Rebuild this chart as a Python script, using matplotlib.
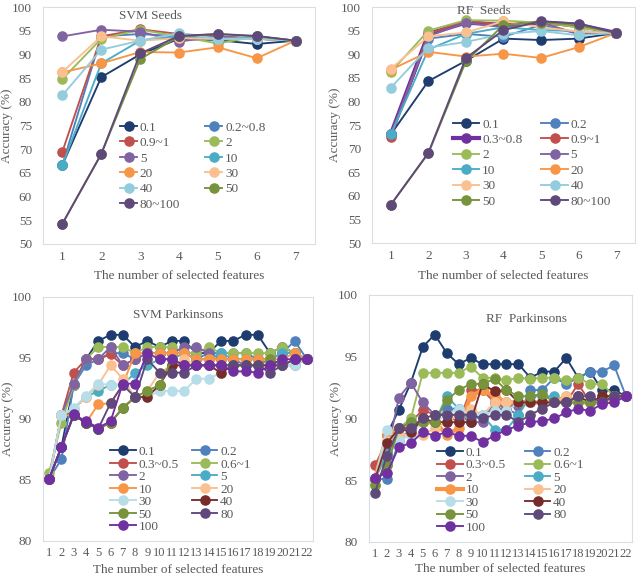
import matplotlib
matplotlib.use("Agg")
import matplotlib.pyplot as plt
import numpy as np

plt.rcParams['font.family'] = ['Liberation Serif', 'DejaVu Serif']

W, H = 639, 583

# ---------------- data ----------------
seeds_x = list(range(1, 8))
park_x = list(range(1, 23))

svm_seeds_labels = ["0.1", "0.2~0.8", "0.9~1", "2", "5", "10", "20", "30", "40", "50", "80~100"]
svm_seeds_vals = [
    [66.7, 85.2, 90.0, 93.3, 93.0, 92.2, 92.9],
    [66.7, 93.8, 94.3, 93.8, 93.8, 93.3, 92.9],
    [69.5, 93.8, 95.3, 94.3, 93.8, 93.3, 92.9],
    [84.8, 93.3, 95.2, 93.8, 92.3, 93.8, 92.9],
    [93.8, 95.2, 94.8, 92.7, 93.8, 93.3, 92.9],
    [66.7, 88.1, 92.9, 93.8, 93.0, 93.8, 92.9],
    [86.2, 88.1, 90.5, 90.4, 91.5, 89.2, 92.9],
    [86.3, 93.8, 92.9, 93.4, 93.3, 93.3, 92.9],
    [81.4, 91.0, 92.9, 94.5, 93.3, 93.3, 92.9],
    [54.3, 69.0, 89.0, 93.8, 94.3, 93.8, 92.9],
    [54.3, 69.0, 90.2, 93.9, 94.3, 93.9, 92.9],
]

rf_seeds_labels = ["0.1", "0.2", "0.3~0.8", "0.9~1", "2", "5", "10", "20", "30", "40", "50", "80~100"]
rf_seeds_vals = [
    [73.0, 84.3, 88.6, 93.3, 93.0, 93.3, 94.5],
    [73.0, 93.3, 94.3, 93.7, 96.2, 94.3, 94.5],
    [73.0, 94.3, 96.7, 96.2, 96.7, 96.2, 94.5],
    [72.4, 94.3, 97.1, 96.2, 96.7, 95.7, 94.5],
    [86.2, 95.0, 97.2, 97.1, 96.7, 95.7, 94.5],
    [73.0, 93.8, 96.7, 95.7, 96.7, 94.3, 94.5],
    [73.0, 91.0, 94.3, 95.7, 95.1, 94.9, 94.5],
    [86.7, 90.5, 89.5, 90.1, 89.2, 91.5, 94.5],
    [86.9, 93.8, 94.6, 97.0, 95.7, 94.8, 94.5],
    [82.9, 91.4, 92.6, 94.3, 94.9, 94.0, 94.5],
    [58.1, 69.0, 88.5, 96.2, 96.7, 96.2, 94.5],
    [58.1, 69.1, 89.2, 95.1, 97.0, 96.5, 94.5],
]

park_labels = ["0.1", "0.2", "0.3~0.5", "0.6~1", "2", "5", "10", "20", "30", "40", "50", "80", "100"]
svm_park_vals = [
    [85.1, 87.7, 92.8, 94.9, 96.4, 96.9, 96.9, 95.9, 96.4, 95.9, 96.4, 96.4, 95.4, 95.4, 96.4, 96.4, 96.9, 96.9, 95.4, 95.9, 95.4, 94.9],
    [85.1, 86.7, 92.8, 94.4, 94.9, 95.4, 95.4, 94.9, 95.4, 95.4, 95.4, 95.4, 94.9, 95.4, 95.4, 95.4, 95.4, 94.9, 94.9, 95.4, 96.4, 94.9],
    [85.1, 90.3, 93.8, 94.9, 94.9, 95.3, 94.4, 94.9, 95.4, 95.4, 95.4, 95.4, 94.9, 94.9, 94.9, 94.9, 94.9, 94.9, 94.9, 95.4, 95.4, 94.9],
    [85.6, 89.7, 92.8, 94.9, 95.9, 95.9, 95.9, 95.4, 95.9, 95.9, 95.9, 95.4, 95.4, 95.9, 95.4, 95.4, 95.4, 95.4, 95.4, 95.9, 95.4, 94.9],
    [85.1, 90.3, 92.9, 94.9, 94.9, 95.9, 94.4, 94.9, 95.4, 95.4, 95.4, 95.9, 95.9, 95.4, 94.9, 94.9, 94.4, 94.4, 94.4, 94.4, 94.4, 94.9],
    [85.1, 90.3, 90.8, 91.8, 92.3, 92.8, 92.8, 93.8, 94.4, 94.9, 94.9, 95.4, 94.9, 94.9, 95.4, 94.9, 94.9, 94.9, 94.9, 95.4, 95.4, 94.9],
    [85.1, 90.3, 90.3, 89.7, 91.2, 91.3, 92.8, 95.4, 95.4, 95.4, 95.4, 95.4, 94.9, 94.9, 94.9, 94.9, 94.9, 94.9, 94.9, 94.9, 95.4, 94.9],
    [85.1, 90.3, 90.8, 91.8, 92.8, 94.4, 93.3, 91.8, 92.3, 93.8, 94.4, 94.9, 94.4, 94.4, 94.4, 94.4, 94.4, 94.4, 94.4, 94.4, 94.9, 94.9],
    [85.1, 90.3, 90.9, 91.9, 92.9, 92.8, 92.8, 91.8, 91.8, 92.3, 92.3, 92.3, 93.3, 93.3, 93.8, 94.4, 94.4, 94.4, 94.4, 94.4, 94.4, 94.9],
    [85.1, 87.7, 90.3, 89.7, 89.2, 89.7, 90.9, 91.8, 91.8, 92.8, 94.4, 94.4, 94.4, 94.4, 93.8, 94.4, 94.4, 94.4, 94.4, 94.4, 94.9, 94.9],
    [85.1, 87.7, 90.3, 89.7, 89.2, 89.7, 90.9, 91.8, 92.3, 92.8, 94.9, 94.4, 94.4, 94.4, 94.4, 94.4, 94.4, 94.4, 94.9, 94.4, 94.9, 94.9],
    [85.1, 87.7, 90.3, 89.7, 89.2, 91.3, 92.8, 91.8, 94.9, 93.8, 93.8, 93.8, 94.4, 94.4, 94.4, 94.4, 94.4, 94.4, 93.8, 94.4, 94.9, 94.9],
    [85.1, 87.7, 90.4, 89.8, 89.3, 89.8, 92.9, 92.9, 95.4, 94.9, 94.9, 94.4, 94.4, 94.4, 94.4, 93.9, 93.9, 93.8, 94.4, 94.9, 94.9, 94.9],
]
rf_park_vals = [
    [85.1, 88.7, 90.7, 92.9, 95.8, 96.8, 95.3, 94.4, 94.9, 94.4, 94.4, 94.4, 94.4, 93.3, 93.8, 93.8, 94.9, 93.3, 93.8, 92.3, 92.3, 91.8],
    [85.1, 85.1, 88.2, 89.2, 89.7, 89.7, 90.8, 90.8, 90.3, 90.3, 90.8, 90.8, 90.3, 92.3, 92.3, 93.3, 92.8, 93.3, 93.8, 93.8, 94.3, 91.8],
    [86.2, 88.2, 88.7, 89.7, 90.7, 90.3, 90.3, 89.7, 92.3, 92.3, 91.3, 90.8, 91.3, 91.3, 91.3, 91.3, 91.3, 92.8, 91.3, 91.8, 91.8, 91.8],
    [84.6, 86.2, 89.2, 90.0, 93.7, 93.7, 93.7, 93.7, 94.2, 93.3, 93.3, 93.1, 93.3, 93.2, 93.3, 93.3, 93.1, 93.3, 92.8, 92.8, 91.8, 91.8],
    [85.1, 87.2, 91.7, 92.9, 91.3, 90.3, 90.3, 90.3, 89.7, 89.7, 91.3, 91.3, 91.0, 91.3, 91.3, 91.3, 91.3, 91.3, 91.3, 91.3, 91.8, 91.8],
    [85.1, 87.2, 89.2, 89.7, 89.7, 89.7, 91.8, 90.8, 89.7, 90.3, 89.1, 89.1, 90.3, 91.8, 91.8, 91.8, 91.3, 91.3, 91.3, 91.3, 91.8, 91.8],
    [85.1, 88.7, 89.2, 89.2, 89.7, 89.7, 88.7, 89.2, 91.8, 92.3, 91.8, 91.3, 91.3, 91.3, 91.3, 91.3, 91.8, 91.3, 91.3, 91.3, 91.8, 91.8],
    [85.1, 88.2, 88.7, 88.7, 88.7, 89.2, 89.7, 90.3, 90.8, 90.3, 91.3, 91.3, 91.3, 91.3, 91.3, 91.3, 91.8, 91.3, 91.3, 91.3, 91.8, 91.8],
    [85.1, 89.1, 88.2, 88.7, 89.7, 89.7, 90.3, 90.8, 90.3, 90.3, 90.6, 90.6, 91.3, 91.3, 91.3, 91.3, 91.3, 91.3, 91.3, 91.3, 91.8, 91.8],
    [85.1, 88.0, 89.2, 88.9, 90.0, 89.7, 89.7, 89.7, 89.7, 92.8, 92.2, 92.3, 91.3, 91.3, 91.3, 91.3, 91.3, 91.8, 91.3, 91.8, 91.8, 91.8],
    [84.6, 86.2, 89.2, 89.7, 89.7, 89.7, 91.5, 92.3, 92.8, 92.8, 93.2, 92.3, 91.8, 91.8, 92.0, 91.3, 91.3, 91.3, 91.3, 91.3, 91.8, 91.8],
    [84.0, 87.0, 89.2, 89.2, 90.0, 90.3, 90.3, 90.3, 90.3, 90.0, 90.3, 90.3, 89.7, 90.3, 90.8, 91.3, 91.3, 91.8, 91.8, 91.3, 91.8, 91.8],
    [85.2, 85.6, 87.7, 88.0, 88.9, 88.6, 88.9, 88.6, 88.6, 88.1, 88.6, 89.1, 89.4, 89.7, 89.8, 90.0, 90.5, 90.8, 90.6, 91.2, 91.3, 91.8],
]

# ---------------- styles ----------------
NAVY, BLUE, RED, GREEN, PURPLE = "#1F3C6E", "#4F81BD", "#C0504D", "#9BBB59", "#8064A2"
TEAL, ORANGE, PEACH, LBLUE, OLIVE = "#4BACC6", "#F79646", "#FAC090", "#93CDDD", "#77933C"
DPURPLE, VIOLET, DRED, PALEBLUE = "#5F497A", "#7030A0", "#772C2A", "#B7DEE8"

svm_seeds_colors = [NAVY, BLUE, RED, GREEN, PURPLE, TEAL, ORANGE, PEACH, LBLUE, OLIVE, DPURPLE]
rf_seeds_colors = [NAVY, BLUE, VIOLET, RED, GREEN, PURPLE, TEAL, ORANGE, PEACH, LBLUE, OLIVE, DPURPLE]
park_colors = [NAVY, BLUE, RED, GREEN, PURPLE, TEAL, ORANGE, PEACH, PALEBLUE, DRED, OLIVE, DPURPLE, VIOLET]

GRAY = "#595959"
SPINE = "#D9DEE6"


def make_axes(l, r, t, b):
    return fig.add_axes([l / W, 1 - b / H, (r - l) / W, (b - t) / H])


def draw_panel(ax, x, vals, labels, colors, thick, title, title_pos, ylim, leg_pos, lspace,
               ylab_x, xlab_y, fs_xtick, xpad, hlen, cspace):
    handles = []
    for i, v in enumerate(vals):
        lw = 3.0 if labels[i] == thick else 1.35
        h, = ax.plot(x, v, "-o", color=colors[i], lw=lw, ms=6.6, label=labels[i], zorder=2 + i * 0.01)
        handles.append(h)
    ax.set_xlim(0.5, len(x) + 0.5)
    ax.set_ylim(*ylim)
    ax.set_xticks(x)
    ax.set_yticks(np.arange(ylim[0], ylim[1] + 1, 5))
    ax.tick_params(length=0, colors=GRAY, labelsize=9.5)
    ax.tick_params(axis="y", pad=8)
    ax.tick_params(axis="x", pad=xpad, labelsize=fs_xtick)
    for s in ax.spines.values():
        s.set_color(SPINE)
        s.set_linewidth(0.8)
    ax.text(title_pos[0], title_pos[1], title, transform=ax.transAxes, ha="center", va="center",
            fontsize=9.5, color=GRAY)
    ax.set_xlabel("The number of selected features", fontsize=9.5, color=GRAY)
    ax.set_ylabel("Accuracy (%)", fontsize=9.5, color=GRAY)
    ax.xaxis.set_label_coords(0.5, xlab_y)
    ax.yaxis.set_label_coords(ylab_x, 0.5)
    # legende remplie ligne par ligne comme dans Excel
    order = list(range(0, len(handles), 2)) + list(range(1, len(handles), 2))
    leg = ax.legend([handles[i] for i in order], [labels[i] for i in order], ncol=2,
                    loc="upper left", bbox_to_anchor=leg_pos, frameon=False,
                    fontsize=9.5, labelspacing=lspace, handlelength=hlen,
                    handletextpad=0.2, columnspacing=cspace, borderpad=0, borderaxespad=0,
                    labelcolor=GRAY)
    return leg


fig = plt.figure(figsize=(W / 100, H / 100), dpi=100)

ax1 = make_axes(43, 315, 7, 244)
draw_panel(ax1, seeds_x, svm_seeds_vals, svm_seeds_labels, svm_seeds_colors, None,
           "SVM Seeds", (0.397, 0.962), (50, 100), (0.283, 0.517), 0.24,
           -0.11, -0.11, 9.5, 5, 1.3, 1.9)

ax2 = make_axes(372, 635, 7, 243)
draw_panel(ax2, seeds_x, rf_seeds_vals, rf_seeds_labels, rf_seeds_colors, "0.3~0.8",
           "RF  Seeds", (0.426, 0.985), (50, 100), (0.308, 0.528), 0.24,
           -0.118, -0.114, 9.5, 5, 2.0, 1.45)

ax3 = make_axes(43, 313, 297, 541)
draw_panel(ax3, park_x, svm_park_vals, park_labels, park_colors, None,
           "SVM Parkinsons", (0.5, 0.926), (80, 100), (0.248, 0.39), 0.02,
           -0.107, -0.094, 9, 4, 1.95, 1.0)

ax4 = make_axes(369, 632, 295, 542)
draw_panel(ax4, park_x, rf_park_vals, park_labels, park_colors, "10",
           "RF  Parkinsons", (0.6, 0.903), (80, 100), (0.259, 0.386), 0.02,
           -0.103, -0.085, 9, 4, 1.95, 1.45)

fig.savefig("out.png", dpi=100)
